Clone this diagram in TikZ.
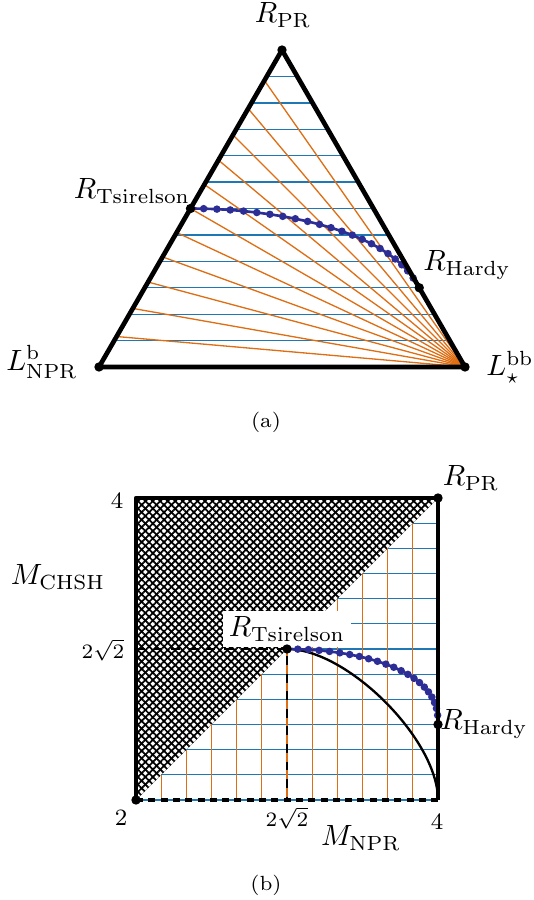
\documentclass[tikz,border=0pt]{standalone}
\usepackage{amsmath,amssymb}
\usepackage{xcolor}
\usepackage{tikz}
\usetikzlibrary{calc,positioning,patterns.meta}

\definecolor{gridblue}{RGB}{31,119,180}
\definecolor{gridorange}{RGB}{222,110,20}
\definecolor{curveblue}{RGB}{45,45,150}

\begin{document}
\begin{tikzpicture}[x=1.2cm,y=1.2cm,
  edge/.style={line width=1.6pt, line join=round},
  hline/.style={gridblue, line width=0.45pt},
  oline/.style={gridorange, line width=0.45pt},
  qcurve/.style={curveblue, line width=0.9pt, mark=*, mark size=0.8pt, mark options={fill=curveblue,draw=curveblue}},
  declare function={qu(\t)=0.5+0.5*sin(\t); qv(\t)=0.25+0.25*(abs(cos(\t))+0.0001)^0.8;}]
\useasboundingbox (0,0) rectangle (5.34,9.00);

% (a) the triangle
\coordinate (LNa) at (0.99,5.33);
\coordinate (LBB) at (4.65,5.33);
\coordinate (PRa) at ($(LNa)!1!60:(LBB)$);
\coordinate (Tsa) at ($(LNa)!0.5!(PRa)$);
\coordinate (Hda) at ($(LBB)!0.25!(PRa)$);
\foreach \k in {0,...,11}
  \draw [hline] ($(LNa)!\k/12!(PRa)$) -- ($(LBB)!\k/12!(PRa)$);
\begin{scope}
  \clip (LNa) -- (LBB) -- (PRa) -- cycle;
  \foreach \a in {5,10,...,55}
    \draw [oline] (LBB) -- ++({180-\a}:4);
\end{scope}
\draw [qcurve] plot [domain=0:90, samples=23] ({0.99+3.66*(qu(\x)-qv(\x)/2)}, {5.33+3.1697*qv(\x)});
\draw [edge] (LNa) -- (LBB) -- (PRa) -- cycle;
\foreach \p in {LNa,LBB,PRa,Tsa,Hda}
  \fill (\p) circle (1.6pt);
\node (lPRa) at (2.83,8.85) {$R_{\mathrm{PR}}$};
\node (lLN) at (0.42,5.38) {$L^{\mathrm{b}}_{\mathrm{NPR}}$};
\node (lLBB) at (5.10,5.33) {$L^{\mathrm{bb}}_{\star}$};
\node (lTsa) at (1.32,7.09) {$R_{\mathrm{Tsirelson}}$};
\node (lHda) at (4.67,6.35) {$R_{\mathrm{Hardy}}$};
\node (capa) at (2.66,4.78) {\scriptsize (a)};

% (b) the square
\coordinate (Q0) at (1.36,1.00);
\coordinate (QR) at (4.38,1.00);
\coordinate (QL) at (1.36,4.02);
\coordinate (PRb) at (4.38,4.02);
\coordinate (Tsb) at ($(Q0)!0.5!(PRb)$);
\coordinate (Hdb) at ($(QR)!0.25!(PRb)$);
\fill [pattern={Lines[angle=45,distance=1.8pt,line width=0.6pt]}] (Q0) -- (QL) -- (PRb) -- cycle;
\fill [pattern={Lines[angle=-45,distance=1.8pt,line width=0.6pt]}] (Q0) -- (QL) -- (PRb) -- cycle;
\foreach \k in {0,...,11}
  \draw [hline] ($(Q0)!\k/12!(PRb)$) -- ($(QR)!\k/12!(PRb)$);
\foreach \k in {1,...,11}
  \draw [oline] ($(Q0)!\k/12!(QR)$) -- ($(Q0)!\k/12!(PRb)$);
\draw [dashed, thin] (Tsb -| Q0) -- (Tsb) -- (Tsb |- Q0);
\node (lTsb) [fill=white, inner sep=2pt] at (2.87,2.71) {$R_{\mathrm{Tsirelson}}$};
\draw [thick] (Tsb) .. controls ($(Tsb)+(0.604,0)$) and ($(QR)+(0,0.604)$) .. (QR);
\draw [qcurve] plot [domain=0:90, samples=23] ({1.36+3.02*qu(\x)}, {1.00+3.02*qv(\x)});
\draw [edge] (Q0) -- (QL) -- (PRb) -- (QR);
\draw [line width=1.2pt, dash pattern=on 2.4pt off 1.8pt] (Q0) -- (QR);
\foreach \p in {Q0,PRb,Tsb,Hdb}
  \fill (\p) circle (1.6pt);
\node (l4y) at (1.17,3.99) {\footnotesize $4$};
\node (lMC) at (0.58,3.23) {$M_{\mathrm{CHSH}}$};
\node (lTy) at (1.03,2.50) {\scriptsize $2\sqrt{2}$};
\node (lPRb) at (4.71,4.22) {$R_{\mathrm{PR}}$};
\node (lHdb) at (4.84,1.76) {$R_{\mathrm{Hardy}}$};
\node (l2x) at (1.21,0.82) {\footnotesize $2$};
\node (lTx) at (2.87,0.82) {\scriptsize $2\sqrt{2}$};
\node (l4x) at (4.37,0.78) {\footnotesize $4$};
\node (lMN) at (3.61,0.62) {$M_{\mathrm{NPR}}$};
\node (capb) at (2.66,0.15) {\scriptsize (b)};
\end{tikzpicture}
\end{document}
